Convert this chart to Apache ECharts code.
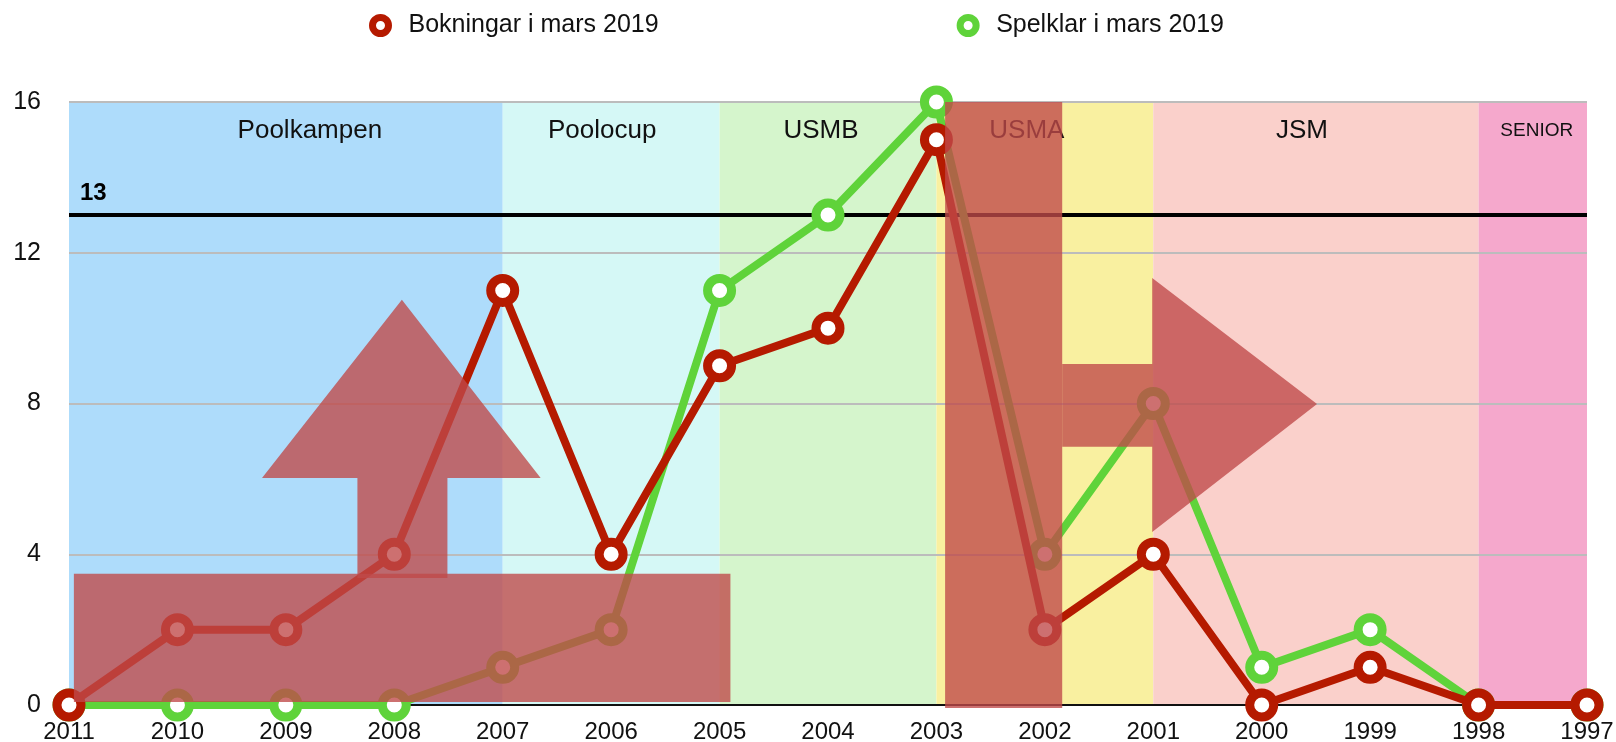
<!DOCTYPE html>
<html>
<head>
<meta charset="utf-8">
<title>Bokningar och spelklara</title>
<script src="https://cdn.jsdelivr.net/npm/echarts@6/dist/echarts.min.js"></script>
<style>
  html, body { margin: 0; padding: 0; background: #fff; }
  #main { width: 1616px; height: 742px; }
</style>
</head>
<body>
<div id="main"></div>
<script>
// årskullar, nyast till vänster
var years = ['2011', '2010', '2009', '2008', '2007', '2006', '2005', '2004', '2003', '2002', '2001', '2000', '1999', '1998', '1997'];
var bokningar = [0, 2, 2, 4, 11, 4, 9, 10, 15, 2, 4, 0, 1, 0, 0];
var spelklar = [0, 0, 0, 0, 1, 2, 11, 13, 16, 4, 8, 1, 2, 0, 0];
var yTicks = [0, 4, 8, 12, 16];
var limit = 13;

// tävlingsklasser och vilka årskullar de täcker
var bandNames = ['Poolkampen', 'Poolocup', 'USMB', 'USMA', 'JSM', 'SENIOR'];
var bandFrom = ['2011', '2007', '2005', '2003', '2001', '1998'];
var bandTo = ['2007', '2005', '2003', '2001', '1998', '1997'];
var bandColors = ['#aedcfb', '#d5f8f6', '#d5f5cc', '#f9f0a0', '#fad0cb', '#f5a8cc'];
var bandLabelShift = [24, -9, -7, -18, -14, 4];

// pilar och block ovanpå, i (årsindex, värde)
var overlayShapes = [
    [[3.07, 10.75], [4.35, 6.02], [3.49, 6.02], [3.49, 3.37], [2.66, 3.37], [2.66, 6.02], [1.78, 6.02]],
    [[0.045, 3.48], [6.10, 3.48], [6.10, 0.08], [0.045, 0.08]],
    [[8.08, 16], [9.16, 16], [9.16, -0.08], [8.08, -0.08]],
    [[9.16, 9.05], [9.99, 9.05], [9.99, 11.33], [11.51, 7.99], [9.99, 4.59], [9.99, 6.85], [9.16, 6.85]]
];

var RED = '#b51a00';
var GREEN = '#5fd33a';
var FONT = 'Liberation Sans, Arial, Helvetica, sans-serif';

function getBands(){
    var data = [];
    for (var i = 0; i < bandNames.length; i++) {
        data.push([
            {
                name: bandNames[i],
                xAxis: bandFrom[i],
                yAxis: yTicks[0],
                itemStyle: { color: bandColors[i] },
                label: {
                    fontSize: bandNames[i] === 'SENIOR' ? 19 : 26,
                    offset: [bandLabelShift[i], bandNames[i] === 'SENIOR' ? 3 : 0]
                }
            },
            { xAxis: bandTo[i], yAxis: yTicks[yTicks.length - 1] }
        ]);
    }
    return data;
}

function lineSeries(name, values, color, z){
    return {
        name: name,
        type: 'line',
        data: values,
        z: z,
        symbol: 'circle',
        symbolSize: 24,
        showAllSymbol: true,
        lineStyle: { color: color, width: 8 },
        itemStyle: { color: '#fff', borderColor: color, borderWidth: 9 },
        emphasis: { disabled: true }
    };
}

function drawChart(){
    var myChart = echarts.init(document.getElementById('main'));
    var option = {
        animation: false,
        textStyle: { fontFamily: FONT },
        legend: {
            data: ['Bokningar i mars 2019', 'Spelklar i mars 2019'],
            left: 364,
            top: 8,
            icon: 'circle',
            itemWidth: 16,
            itemHeight: 16,
            itemGap: 298,
            itemStyle: { color: '#fff', borderColor: 'inherit', borderWidth: 7 },
            textStyle: { fontSize: 25, color: '#111', fontFamily: FONT, padding: [0, 0, 0, 15] }
        },
        grid: { left: 69, right: 29, top: 102, bottom: 37, outerBoundsMode: 'none' },
        xAxis: {
            type: 'category',
            data: years,
            boundaryGap: false,
            z: 1,
            axisLine: { lineStyle: { color: '#111', width: 2 } },
            axisTick: { show: false },
            axisLabel: { fontSize: 24, color: '#111', margin: 15, fontFamily: FONT },
            splitLine: { show: false }
        },
        yAxis: {
            type: 'value',
            min: 0,
            max: 16,
            interval: 4,
            z: 1,
            axisLine: { show: false },
            axisTick: { show: false },
            axisLabel: { fontSize: 25, color: '#111', margin: 28, fontFamily: FONT },
            splitLine: { lineStyle: { color: '#bcbcbc', width: 2 } }
        },
        series: [
            {
                name: 'bands',
                type: 'line',
                data: [],
                z: 0,
                markArea: {
                    z: 0,
                    silent: true,
                    label: { position: 'insideTop', distance: 16, color: '#111', fontFamily: FONT },
                    data: getBands()
                }
            },
            {
                name: 'limit',
                type: 'line',
                data: [],
                markLine: {
                    z: 2,
                    silent: true,
                    symbol: 'none',
                    lineStyle: { color: '#000', width: 4, type: 'solid' },
                    label: {
                        position: 'insideStartTop',
                        formatter: String(limit),
                        fontSize: 24,
                        fontWeight: 'bold',
                        color: '#000',
                        distance: [11, 10],
                        fontFamily: FONT
                    },
                    data: [{ yAxis: limit }]
                }
            },
            lineSeries('Spelklar i mars 2019', spelklar, GREEN, 3),
            lineSeries('Bokningar i mars 2019', bokningar, RED, 4)
        ]
    };
    myChart.setOption(option);

    // omvandla (index, värde) till pixlar via axlarna
    var xa = myChart.convertToPixel({ xAxisIndex: 0 }, 0);
    var xb = myChart.convertToPixel({ xAxisIndex: 0 }, years.length - 1);
    var ya = myChart.convertToPixel({ yAxisIndex: 0 }, 0);
    var yb = myChart.convertToPixel({ yAxisIndex: 0 }, 16);
    var graphics = [];
    for (var s of overlayShapes) {
        var pts = [];
        for (var p of s) {
            pts.push([
                xa + (xb - xa) * p[0] / (years.length - 1),
                ya + (yb - ya) * p[1] / 16
            ]);
        }
        graphics.push({
            type: 'polygon',
            silent: true,
            z: 100,
            shape: { points: pts },
            style: { fill: 'rgba(192,74,74,0.79)' }
        });
    }
    myChart.setOption({ graphic: graphics });
}

drawChart();
</script>
</body>
</html>
